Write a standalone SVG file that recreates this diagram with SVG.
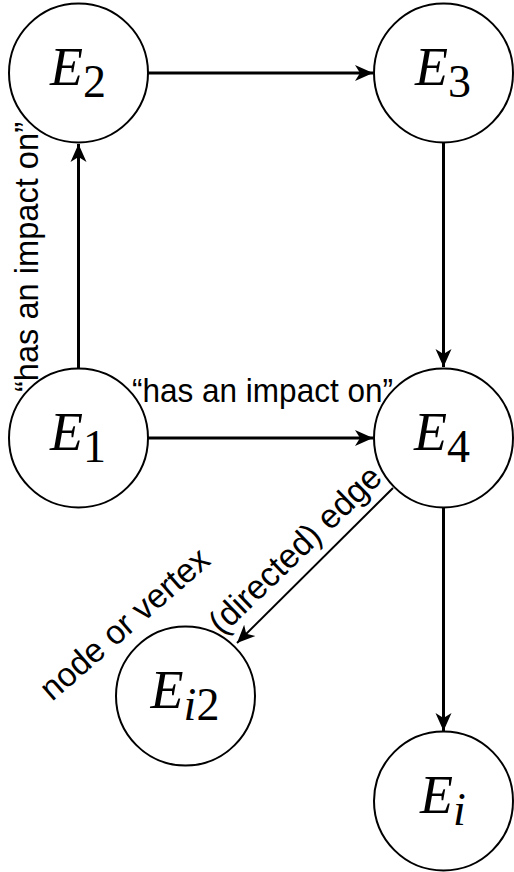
<svg xmlns="http://www.w3.org/2000/svg" width="514" height="872" viewBox="0 0 514 872">
<style>
.node circle{fill:#fff;stroke:#000;stroke-width:2}
.lbl{font-family:"Liberation Serif","Times New Roman",serif;font-size:54px;fill:#000;text-anchor:middle}
.it{font-style:italic}
.sub{font-size:46px;font-style:normal}
.subi{font-size:46px;font-style:italic}
.edge{stroke:#000;stroke-width:3;fill:none;marker-end:url(#ah)}
.thin{stroke-width:2}
.note{font-family:"Liberation Sans",Arial,sans-serif;font-size:34px;fill:#000}
</style>
<defs>
<marker id="ah" viewBox="0 0 18 18" refX="18" refY="9" markerWidth="18" markerHeight="18" markerUnits="userSpaceOnUse" orient="auto">
<path d="M0,1 L18,9 L0,17 L5,9 z" fill="#000"/>
</marker>
</defs>
<g id="connectors">
<line class="edge" x1="148" y1="73" x2="373" y2="73"/>
<line class="edge" x1="78.5" y1="368" x2="78.5" y2="144"/>
<line class="edge" x1="443.5" y1="143" x2="443.5" y2="367"/>
<line class="edge" x1="148" y1="438" x2="373" y2="438"/>
<line class="edge" x1="443.5" y1="508" x2="443.5" y2="731"/>
<line class="edge thin" x1="393" y1="488" x2="237" y2="643"/>
</g>
<g id="E2" class="node"><circle cx="78.5" cy="73" r="69.5"/><text class="lbl" x="78" y="85"><tspan class="it">E</tspan><tspan class="sub" dy="12">2</tspan></text></g>
<g id="E3" class="node"><circle cx="443.5" cy="73" r="69.5"/><text class="lbl" x="443" y="85"><tspan class="it">E</tspan><tspan class="sub" dy="12">3</tspan></text></g>
<g id="E1" class="node"><circle cx="78.5" cy="438" r="69.5"/><text class="lbl" x="78" y="450"><tspan class="it">E</tspan><tspan class="sub" dy="12">1</tspan></text></g>
<g id="E4" class="node"><circle cx="443.5" cy="438" r="69.5"/><text class="lbl" x="442" y="450"><tspan class="it">E</tspan><tspan class="sub" dy="12">4</tspan></text></g>
<g id="Ei2" class="node"><circle cx="185.5" cy="696" r="69.5"/><text class="lbl" x="185" y="708"><tspan class="it">E</tspan><tspan class="subi" dy="12">i</tspan><tspan class="sub">2</tspan></text></g>
<g id="Ei" class="node"><circle cx="443.5" cy="801" r="69.5"/><text class="lbl" x="443" y="813"><tspan class="it">E</tspan><tspan class="subi" dy="12">i</tspan></text></g>
<g id="labels">
<text class="note" transform="translate(38,392) rotate(-90)" textLength="270" lengthAdjust="spacingAndGlyphs">“has an impact on”</text>
<text class="note" x="132" y="402" textLength="261" lengthAdjust="spacingAndGlyphs">“has an impact on”</text>
<text class="note" transform="translate(222,636) rotate(-44)" textLength="225" lengthAdjust="spacingAndGlyphs">(directed) edge</text>
<text class="note" transform="translate(52,702) rotate(-41)" textLength="212" lengthAdjust="spacingAndGlyphs">node or vertex</text>
</g>
</svg>
